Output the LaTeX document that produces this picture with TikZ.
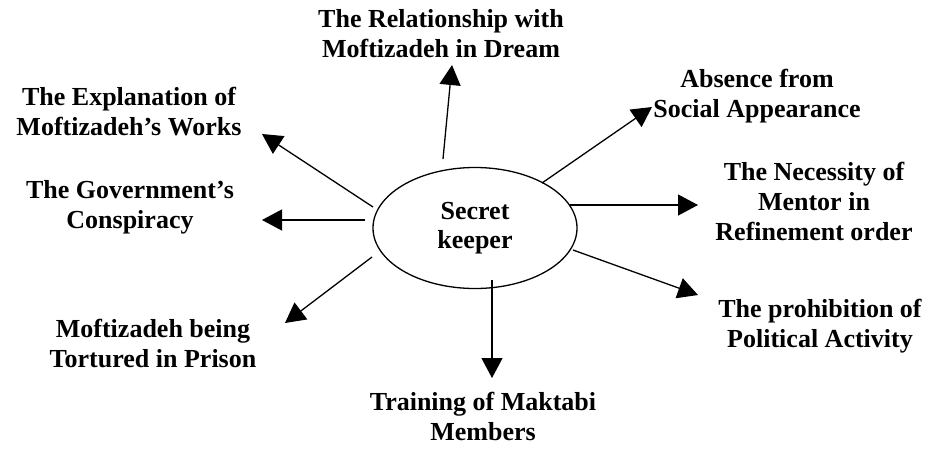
\documentclass[tikz,border=0pt]{standalone}
\usepackage{fontspec}
\setmainfont{Liberation Serif}
\usetikzlibrary{arrows.meta,shapes.geometric}
\begin{document}
\begin{tikzpicture}[x=1pt,y=-1pt,
  lbl/.style={font=\bfseries\fontsize{26}{30}\selectfont, align=center, inner sep=0pt, anchor=north},
  conn/.style={line width=1.3pt, -{Triangle[length=20pt,width=21pt]}}]
\useasboundingbox (0,0) rectangle (932,448);
\node[ellipse, draw, line width=1.3pt, minimum width=204pt, minimum height=121pt, inner sep=0pt,
      font=\bfseries\fontsize{26}{29}\selectfont, align=center] (c) at (475,228) {Secret\\keeper};
\node[lbl] (dream) at (441,9) {The Relationship with\\Moftizadeh in Dream};
\node[lbl] (absence) at (757,69) {Absence from\\Social Appearance};
\node[lbl] (necessity) at (814,162) {The Necessity of\\Mentor in\\Refinement order};
\node[lbl] (prohib) at (820,299) {The prohibition of\\Political Activity};
\node[lbl] (expl) at (129,87) {The Explanation of\\Moftizadeh’s Works};
\node[lbl] (gov) at (130,180) {The Government’s\\Conspiracy};
\node[lbl] (tort) at (153,319) {Moftizadeh being\\Tortured in Prison};
\node[lbl] (train) at (483,392) {Training of Maktabi\\Members};
% connector ends
\coordinate (s1) at (443,159); \coordinate (e1) at (452,65);
\coordinate (s2) at (542,183); \coordinate (e2) at (652,107);
\coordinate (s3) at (570,205); \coordinate (e3) at (698,205);
\coordinate (s4) at (573,250); \coordinate (e4) at (698,295);
\coordinate (s5) at (492,280); \coordinate (e5) at (492,378);
\coordinate (s6) at (372,257); \coordinate (e6) at (285,323);
\coordinate (s7) at (365,220); \coordinate (e7) at (262,220);
\coordinate (s8) at (373,207); \coordinate (e8) at (262,134);
\foreach \i in {1,...,8} \draw[conn] (s\i) -- (e\i);
\end{tikzpicture}
\end{document}
